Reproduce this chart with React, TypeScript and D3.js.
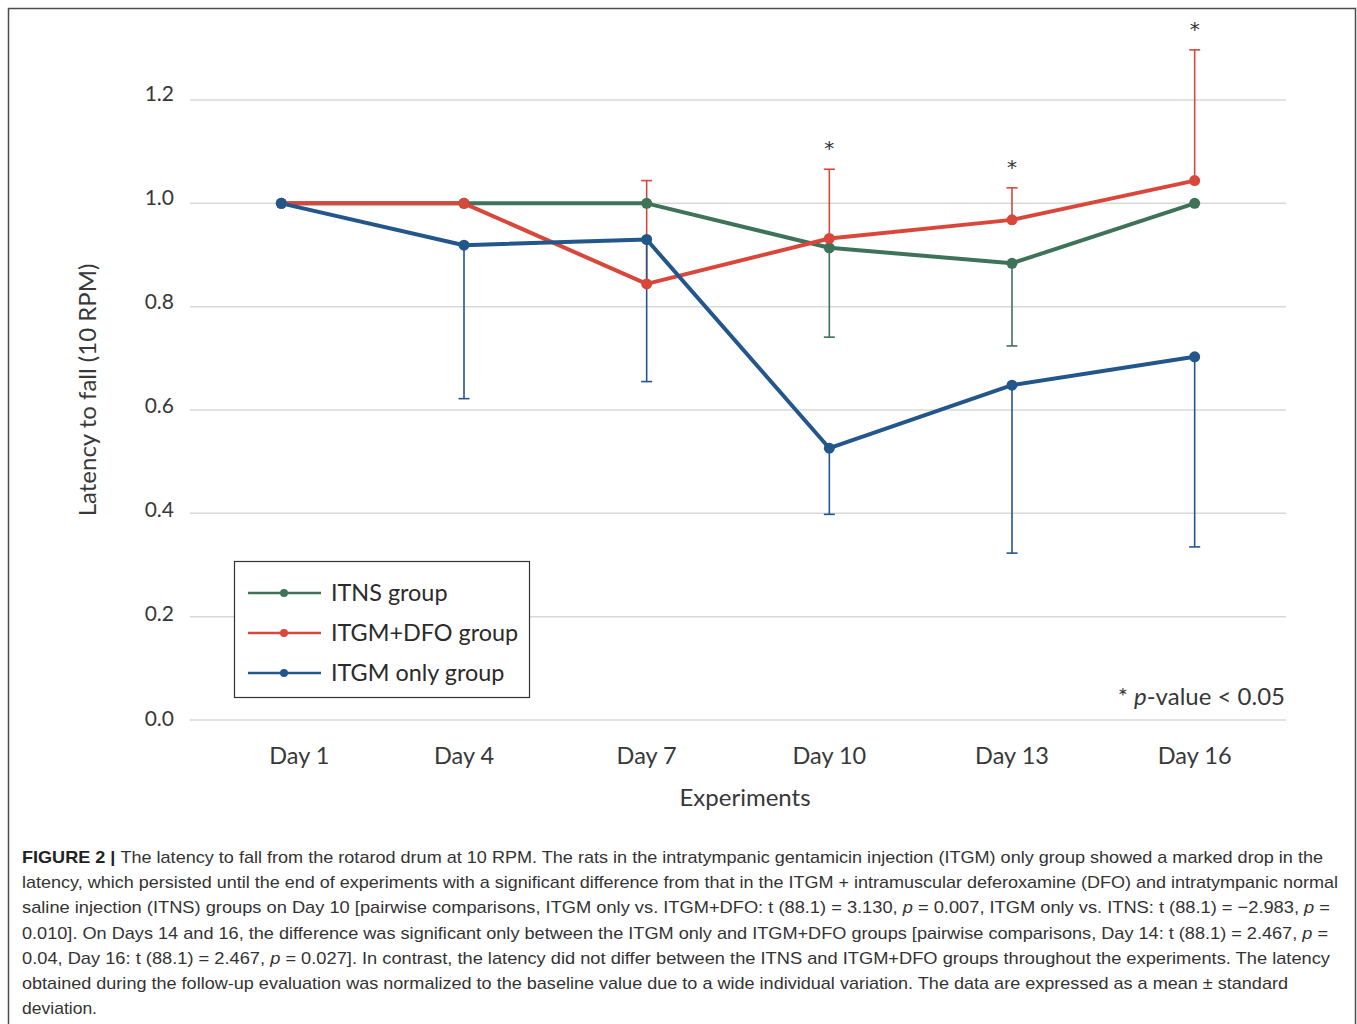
import React from "react";
import * as d3 from "d3";

const days = ["Day 1", "Day 4", "Day 7", "Day 10", "Day 13", "Day 16"];
const yTicks = [0, 0.2, 0.4, 0.6, 0.8, 1.0, 1.2];

const itnsMean = [1.0, 1.0, 1.0, 0.914, 0.884, 1.0];
const itnsSD = [0, 0, 0, 0.173, 0.16, 0];
const dfoMean = [1.0, 1.0, 0.844, 0.932, 0.968, 1.044];
const dfoSD = [0, 0, 0.2, 0.134, 0.062, 0.253];
const onlyMean = [1.0, 0.919, 0.93, 0.526, 0.648, 0.703];
const onlySD = [0, 0.297, 0.275, 0.128, 0.325, 0.368];
const significant = [false, false, false, true, true, true];

const seriesNames = ["ITNS group", "ITGM+DFO group", "ITGM only group"];
const seriesColors = ["#3e7359", "#d9473b", "#23568a"];

const captionLines: { parts: { t: string; b?: boolean; i?: boolean }[]; w: number }[] = [
  { parts: [{ t: "FIGURE 2 | ", b: true }, { t: "The latency to fall from the rotarod drum at 10 RPM. The rats in the intratympanic gentamicin injection (ITGM) only group showed a marked drop in the" }], w: 1301 },
  { parts: [{ t: "latency, which persisted until the end of experiments with a significant difference from that in the ITGM + intramuscular deferoxamine (DFO) and intratympanic normal" }], w: 1316 },
  { parts: [{ t: "saline injection (ITNS) groups on Day 10 [pairwise comparisons, ITGM only vs. ITGM+DFO: t (88.1) = 3.130, " }, { t: "p", i: true }, { t: " = 0.007, ITGM only vs. ITNS: t (88.1) = \u22122.983, " }, { t: "p", i: true }, { t: " =" }], w: 1308 },
  { parts: [{ t: "0.010]. On Days 14 and 16, the difference was significant only between the ITGM only and ITGM+DFO groups [pairwise comparisons, Day 14: t (88.1) = 2.467, " }, { t: "p", i: true }, { t: " =" }], w: 1306 },
  { parts: [{ t: "0.04, Day 16: t (88.1) = 2.467, " }, { t: "p", i: true }, { t: " = 0.027]. In contrast, the latency did not differ between the ITNS and ITGM+DFO groups throughout the experiments. The latency" }], w: 1308 },
  { parts: [{ t: "obtained during the follow-up evaluation was normalized to the baseline value due to a wide individual variation. The data are expressed as a mean \u00b1 standard" }], w: 1266 },
  { parts: [{ t: "deviation." }], w: 75 },
];

const FONT = "Lato, 'Open Sans', sans-serif";

export default function App() {
  const W = 1357;
  const H = 1024;
  const x = d3.scaleBand<string>().domain(days).range([190, 1286]).padding(0);
  const y = d3.scaleLinear().domain([0, 1.2]).range([720, 100]);
  const yLab = d3.scaleLinear().domain([0, 1.2]).range([718, 93]);
  const cx = (d: string) => (x(d) as number) + x.bandwidth() / 2;

  const series = [
    { name: seriesNames[0], color: seriesColors[0], mean: itnsMean, sd: itnsSD, dir: -1 },
    { name: seriesNames[1], color: seriesColors[1], mean: dfoMean, sd: dfoSD, dir: 1 },
    { name: seriesNames[2], color: seriesColors[2], mean: onlyMean, sd: onlySD, dir: -1 },
  ];

  const line = d3
    .line<number>()
    .x((_, i) => cx(days[i]))
    .y((v) => y(v));

  const cap = 5.5;
  const textCol = "#383838";

  return (
    <svg
      width={W}
      height={H}
      style={{ position: "absolute", left: 0, top: 0, background: "#fff" }}
      fontFamily={FONT}
    >
      <rect x={0} y={0} width={W} height={H} fill="#fff" />
      {/* figure border */}
      <path d={`M8.5,${H} V8.5 H1355.5 V${H}`} fill="none" stroke="#4d4d4d" strokeWidth={1.5} />

      {/* gridlines */}
      {yTicks.map((t) => (
        <line key={t} x1={190} x2={1286} y1={y(t)} y2={y(t)} stroke="#d9d9d9" strokeWidth={1.5} />
      ))}
      {yTicks.map((t) => (
        <text key={"l" + t} x={174} y={yLab(t)} dy="0.36em" textAnchor="end" fontSize={21} fill={textCol}>
          {d3.format(".1f")(t)}
        </text>
      ))}
      <text
        transform={`translate(96,390) rotate(-90)`}
        textAnchor="middle"
        fontSize={24}
        fill={textCol}
      >
        Latency to fall (10 RPM)
      </text>

      {/* x labels */}
      {days.map((d, i) => (
        <text key={d} x={cx(d) + (i === 0 ? 18 : 0)} y={764} textAnchor="middle" fontSize={23.5} fill={textCol}>
          {d}
        </text>
      ))}
      <text x={745} y={806} textAnchor="middle" fontSize={24} fill={textCol}>
        Experiments
      </text>

      {/* error bars */}
      {series.map((s) =>
        s.mean.map((m, i) => {
          if (!s.sd[i]) return null;
          const xx = cx(days[i]);
          const y0 = y(m);
          const y1 = y(m + s.dir * s.sd[i]);
          return (
            <g key={s.name + i} stroke={s.color} strokeWidth={1.6}>
              <line x1={xx} x2={xx} y1={y0} y2={y1} />
              <line x1={xx - cap} x2={xx + cap} y1={y1} y2={y1} />
            </g>
          );
        })
      )}

      {/* lines */}
      {series.map((s) => (
        <path key={s.name} d={line(s.mean) || ""} fill="none" stroke={s.color} strokeWidth={4} strokeLinejoin="round" />
      ))}
      {series.map((s) =>
        s.mean.map((m, i) => <circle key={s.name + "c" + i} cx={cx(days[i])} cy={y(m)} r={5.5} fill={s.color} />)
      )}

      {/* significance asterisks */}
      {days.map((d, i) =>
        significant[i] ? (
          <text
            key={"s" + d}
            x={cx(d)}
            y={y(dfoMean[i] + dfoSD[i]) - 14}
            textAnchor="middle"
            fontSize={20}
            fontFamily="'DejaVu Sans', sans-serif"
            fill="#333"
          >
            *
          </text>
        ) : null
      )}

      <text x={1285} y={705} textAnchor="end" fontSize={24} fill={textCol}>
        * <tspan fontStyle="italic">p</tspan>-value &lt; 0.05
      </text>

      {/* legend */}
      <rect x={234.5} y={561.5} width={295} height={136} fill="#fff" stroke="#333" strokeWidth={1.2} />
      {series.map((s, i) => {
        const ly = 593 + i * 40;
        return (
          <g key={"lg" + s.name}>
            <line x1={248} x2={321} y1={ly} y2={ly} stroke={s.color} strokeWidth={2.5} />
            <circle cx={284} cy={ly} r={4} fill={s.color} />
            <text x={331} y={ly} dy="0.36em" fontSize={23.4} fill="#2b2b2b">
              {s.name}
            </text>
          </g>
        );
      })}

      {/* caption */}
      {captionLines.map((ln, i) => (
        <text
          key={"cap" + i}
          x={22}
          y={863 + i * 25.2}
          fontSize={17}
          fontFamily="'Liberation Sans', Arial, sans-serif"
          fill="#333"
          textLength={ln.w}
          lengthAdjust="spacingAndGlyphs"
        >
          {ln.parts.map((p, j) => (
            <tspan key={j} fontWeight={p.b ? "bold" : "normal"} fontStyle={p.i ? "italic" : "normal"} fill={p.b ? "#222" : "#333"}>
              {p.t}
            </tspan>
          ))}
        </text>
      ))}
    </svg>
  );
}
